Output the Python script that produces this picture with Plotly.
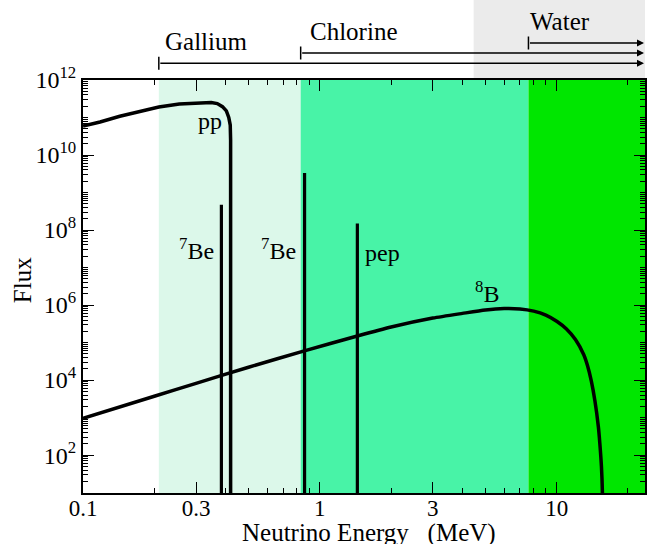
import math
import plotly.graph_objects as go

# ---------------- data ----------------
pp_energy = [0.100, 0.118, 0.143, 0.173, 0.209, 0.255, 0.310, 0.348, 0.369,
             0.388, 0.403, 0.4125, 0.4185, 0.420, 0.420]
pp_flux = [5.9e10, 7.6e10, 1.08e11, 1.44e11, 1.9e11, 2.3e11, 2.5e11, 2.5e11,
           2.35e11, 1.95e11, 1.5e11, 1.0e11, 6.3e10, 2.5e10, 1.0]

b8_energy = [0.1, 0.2, 0.3, 0.5, 0.86, 1.44, 2, 3, 4, 5, 6, 7, 8, 9, 10, 11,
             12, 13, 13.5, 14, 14.5, 15, 15.2, 15.45, 15.6, 15.65]
b8_flux = [9.5e2, 3.7e3, 8.2e3, 2.2e4, 6.0e4, 1.5e5, 2.6e5, 4.5e5, 6.0e5,
           7.4e5, 8.1e5, 7.9e5, 6.9e5, 5.4e5, 3.7e5, 2.3e5, 1.2e5, 4.8e4,
           2.4e4, 9.5e3, 2.8e3, 5.6e2, 2.2e2, 50, 10, 1]

line_energy = [0.384, 0.862, 1.44]
line_flux = [4.7e8, 3.3e9, 1.5e8]
line_labels = ["<sup>7</sup>Be", "<sup>7</sup>Be", "pep"]

detector_names = ["Gallium", "Chlorine", "Water"]
detector_threshold = [0.209, 0.83, 7.6]
detector_colors = ["#dcf8ea", "#48f3a7", "#00e600"]
water_band_start = 4.46

x_ticks = [0.1, 0.3, 1, 3, 10]
x_ticktext = ["0.1", "0.3", "1", "3", "10"]
y_ticks = [1e2, 1e4, 1e6, 1e8, 1e10, 1e12]
y_ticktext = ["10<sup>2</sup>", "10<sup>4</sup>", "10<sup>6</sup>",
              "10<sup>8</sup>", "10<sup>10</sup>", "10<sup>12</sup>"]

X_MAX = 23.6
FONT = "Liberation Serif"
W, H = 647, 544
ML, MR, MT, MB = 83, 0, 80, 51
PH = H - MT - MB
PW = W - ML - MR


def py(px):
    """pixel row -> paper y"""
    return (H - MB - px) / PH


fig = go.Figure()

# spectra
fig.add_trace(go.Scatter(x=pp_energy, y=pp_flux, mode="lines",
                         line=dict(color="black", width=3.5), hoverinfo="skip"))
fig.add_trace(go.Scatter(x=b8_energy, y=b8_flux, mode="lines",
                         line=dict(color="black", width=3.5, shape="spline", smoothing=0.6),
                         hoverinfo="skip"))
for e, f in zip(line_energy, line_flux):
    fig.add_trace(go.Scatter(x=[e, e], y=[1, f], mode="lines",
                             line=dict(color="black", width=3.2), hoverinfo="skip"))

# detector bands
bounds = detector_threshold + [X_MAX]
for i, c in enumerate(detector_colors):
    fig.add_shape(type="rect", xref="x", yref="paper", x0=bounds[i], x1=bounds[i + 1],
                  y0=0, y1=1, fillcolor=c, line=dict(width=0), layer="below")
fig.add_shape(type="rect", xref="x", yref="paper", x0=water_band_start, x1=X_MAX,
              y0=1, y1=py(0), fillcolor="#ebebeb", line=dict(width=0), layer="below")

annotations = []
# threshold arrows
arrow_rows = [63.3, 53.0, 43.0]
text_rows = [42, 31, 21]
text_shift = [4, 7, 0]
for name, thr, ar, tr, sh in zip(detector_names, detector_threshold, arrow_rows,
                                 text_rows, text_shift):
    fig.add_shape(type="line", xref="x", yref="paper", x0=thr, x1=thr,
                  y0=py(ar - 6.5), y1=py(ar + 6.5), line=dict(color="black", width=1.5))
    annotations.append(dict(x=math.log10(X_MAX), y=py(ar), xref="x", yref="paper",
                            ax=math.log10(thr), ay=0, axref="x", ayref="pixel",
                            showarrow=True, arrowhead=2, arrowsize=1, arrowwidth=1.4,
                            arrowcolor="black", text="", standoff=1))
    annotations.append(dict(x=math.log10(thr), y=py(tr), xref="x", yref="paper",
                            xanchor="left", yanchor="middle", xshift=sh, showarrow=False,
                            text=name, font=dict(family=FONT, size=25, color="black")))

# spectrum labels
lab_font = dict(family=FONT, size=24, color="black")
annotations.append(dict(x=math.log10(0.392), y=10.9, xref="x", yref="y",
                        xanchor="right", yanchor="middle", showarrow=False,
                        text="pp", font=lab_font))
annotations.append(dict(x=math.log10(0.364), y=7.5, xref="x", yref="y",
                        xanchor="right", yanchor="middle", showarrow=False,
                        text=line_labels[0], font=lab_font))
annotations.append(dict(x=math.log10(0.805), y=7.5, xref="x", yref="y",
                        xanchor="right", yanchor="middle", showarrow=False,
                        text=line_labels[1], font=lab_font))
annotations.append(dict(x=math.log10(1.52), y=7.4, xref="x", yref="y",
                        xanchor="left", yanchor="middle", showarrow=False,
                        text=line_labels[2], font=lab_font))
annotations.append(dict(x=math.log10(5.1), y=6.35, xref="x", yref="y",
                        xanchor="center", yanchor="middle", showarrow=False,
                        text="<sup>8</sup>B", font=lab_font))

# axis titles
annotations.append(dict(x=(370 - ML) / PW, y=py(533), xref="paper", yref="paper",
                        xanchor="center", yanchor="middle", showarrow=False,
                        text="Neutrino Energy\u00a0\u00a0\u00a0(MeV)",
                        font=dict(family=FONT, size=25, color="black")))
annotations.append(dict(x=-(ML - 22) / PW, y=py(280), xref="paper", yref="paper",
                        xanchor="center", yanchor="middle", showarrow=False, textangle=-90,
                        text="Flux", font=dict(family=FONT, size=25, color="black")))

fig.update_layout(
    width=W, height=H, margin=dict(l=ML, r=MR, t=MT, b=MB, pad=0),
    paper_bgcolor="white", plot_bgcolor="white", showlegend=False,
    font=dict(family=FONT, size=23, color="black"),
    annotations=annotations,
)
fig.update_xaxes(type="log", range=[-1, math.log10(X_MAX)], tickmode="array",
                 tickvals=x_ticks, ticktext=x_ticktext, ticks="inside", ticklen=11,
                 tickwidth=1.3, tickcolor="black", showline=True, linewidth=2,
                 linecolor="black", mirror="ticks", showgrid=False, zeroline=False,
                 ticklabelstandoff=-7,
                 tickfont=dict(family=FONT, size=23, color="black"),
                 minor=dict(ticks="inside", ticklen=5, tickwidth=1, tickcolor="black",
                            dtick="D1", showgrid=False))
fig.update_yaxes(type="log", range=[0.99, 12], tickmode="array",
                 tickvals=y_ticks, ticktext=y_ticktext, ticks="inside", ticklen=11,
                 tickwidth=1.3, tickcolor="black", showline=True, linewidth=2,
                 linecolor="black", mirror="ticks", showgrid=False, zeroline=False,
                 tickfont=dict(family=FONT, size=24, color="black"),
                 minor=dict(ticks="inside", ticklen=5, tickwidth=1, tickcolor="black",
                            dtick="D1", showgrid=False))

fig.write_html("out.html", config={"displayModeBar": False},
               post_script="document.body.style.margin='0px';"
                           "document.body.style.overflow='hidden';")
